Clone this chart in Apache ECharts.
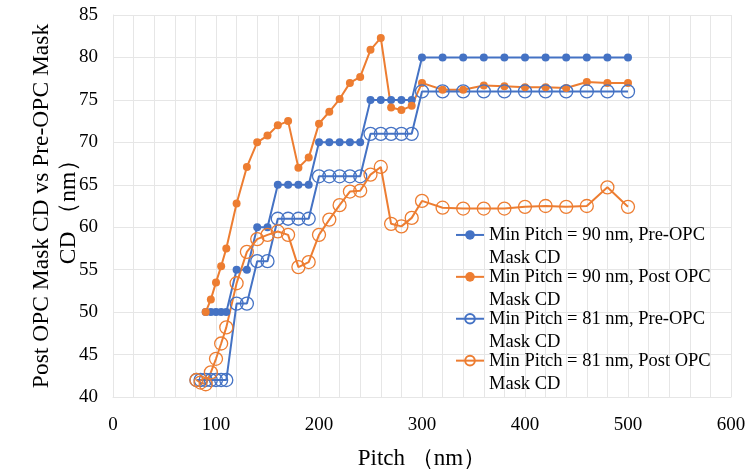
<!DOCTYPE html>
<html>
<head>
<meta charset="utf-8">
<script src="https://cdn.jsdelivr.net/npm/echarts@6/dist/echarts.min.js"></script>
<style>html,body{margin:0;padding:0;background:#fff}#c{width:751px;height:472px}</style>
</head>
<body>
<div id="c"></div>
<script>
const seriesNames = [
  'Min Pitch = 90 nm, Pre-OPC Mask CD',
  'Min Pitch = 90 nm, Post OPC Mask CD',
  'Min Pitch = 81 nm, Pre-OPC Mask CD',
  'Min Pitch = 81 nm, Post OPC Mask CD'
];
const pitch90 = [90,95,100,105,110,120,130,140,150,160,170,180,190,200,210,220,230,240,250,260,270,280,290,300,320,340,360,380,400,420,440,460,480,500];
const pre90 = [50,50,50,50,50,55,55,60,60,65,65,65,65,70,70,70,70,70,75,75,75,75,75,80,80,80,80,80,80,80,80,80,80,80];
const post90 = [50,51.5,53.5,55.4,57.5,62.8,67.1,70,70.8,72,72.5,67,68.2,72.2,73.6,75.1,77,77.7,80.9,82.3,74.1,73.8,74.3,77,76.2,76.2,76.7,76.6,76.5,76.5,76.4,77.1,77,77];
const pitch81 = [81,85,90,95,100,105,110,120,130,140,150,160,170,180,190,200,210,220,230,240,250,260,270,280,290,300,320,340,360,380,400,420,440,460,480,500];
const pre81 = [42,42,42,42,42,42,42,51,51,56,56,61,61,61,61,66,66,66,66,66,71,71,71,71,71,76,76,76,76,76,76,76,76,76,76,76];
const post81 = [42,41.7,41.5,42.9,44.5,46.3,48.2,53.4,57.1,58.6,59.1,59.5,59.1,55.3,55.9,59.1,60.9,62.6,64.2,64.3,66.2,67.1,60.4,60.1,61.1,63.1,62.3,62.2,62.2,62.2,62.4,62.5,62.4,62.5,64.7,62.4];
const xTicks = {min: 0, max: 600, interval: 100, minorSplit: 5};
const yTicks = {min: 40, max: 85, interval: 5};

const BLUE = '#4472C4', ORANGE = '#ED7D31', GRID = '#e6e6e6';
const FONT = '"Liberation Serif", "Times New Roman", serif';
const zip = (xs, ys) => xs.map((x, i) => [x, ys[i]]);

function mk(name, xs, ys, color, hollow) {
  return {
    name, type: 'line', data: zip(xs, ys),
    symbol: 'circle', symbolSize: hollow ? 13 : 8,
    lineStyle: {color, width: 2},
    itemStyle: hollow ? {color: 'rgba(255,255,255,0)', borderColor: color, borderWidth: 1.3} : {color, borderColor: color, borderWidth: 0},
    emphasis: {disabled: true}, animation: false
  };
}

const chart = echarts.init(document.getElementById('c'), null, {renderer: 'canvas'});
chart.setOption({
  animation: false,
  grid: {left: 113, right: 20, top: 15, bottom: 75, outerBoundsMode: 'none', containLabel: false},
  legend: {
    orient: 'vertical', left: 455, top: 200, padding: 0, itemGap: -28,
    itemWidth: 28, itemHeight: 12,
    data: seriesNames,
    formatter: n => { const k = n.lastIndexOf(' Mask CD'); return '\n' + n.slice(0, k) + '\n' + 'Mask CD'; },
    textStyle: {fontFamily: FONT, fontSize: 18.5, color: '#000', lineHeight: 23.3}
  },
  xAxis: {
    type: 'value', min: xTicks.min, max: xTicks.max, interval: xTicks.interval,
    name: 'Pitch （nm）', nameLocation: 'middle', nameGap: 50, nameMoveOverlap: false,
    nameTextStyle: {fontFamily: FONT, fontSize: 23, color: '#000'},
    axisLine: {show: true, lineStyle: {color: GRID}}, axisTick: {show: false},
    axisLabel: {fontFamily: FONT, fontSize: 19, color: '#000', margin: 19},
    splitLine: {show: true, lineStyle: {color: GRID, width: 1}},
    minorTick: {show: true, splitNumber: xTicks.minorSplit, length: 0, lineStyle: {color: 'rgba(0,0,0,0)'}},
    minorSplitLine: {show: true, lineStyle: {color: GRID, width: 1}}
  },
  yAxis: {
    type: 'value', min: yTicks.min, max: yTicks.max, interval: yTicks.interval,
    name: 'Post OPC Mask CD vs Pre-OPC Mask\nCD （nm）', nameLocation: 'middle', nameGap: 31, nameRotate: 90, nameMoveOverlap: false,
    nameTextStyle: {fontFamily: FONT, fontSize: 23.5, color: '#000', lineHeight: 27, align: 'center'},
    axisLine: {show: true, lineStyle: {color: GRID}}, axisTick: {show: false},
    axisLabel: {fontFamily: FONT, fontSize: 19, color: '#000', margin: 15},
    splitLine: {show: true, lineStyle: {color: GRID, width: 1}}
  },
  series: [
    mk(seriesNames[0], pitch90, pre90, BLUE, false),
    mk(seriesNames[1], pitch90, post90, ORANGE, false),
    mk(seriesNames[2], pitch81, pre81, BLUE, true),
    mk(seriesNames[3], pitch81, post81, ORANGE, true)
  ]
});
</script>
</body>
</html>
